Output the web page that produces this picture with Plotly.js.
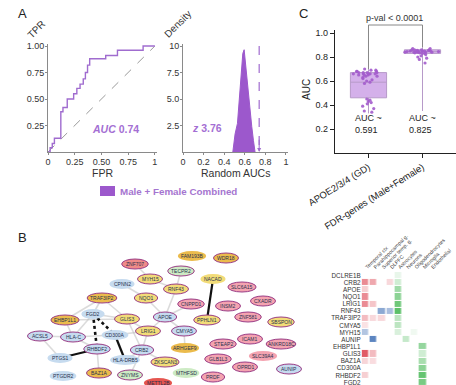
<!DOCTYPE html>
<html><head><meta charset="utf-8">
<script src="https://cdn.plot.ly/plotly-3.0.1.min.js"></script>
<style>html,body{margin:0;padding:0;background:#fff}#chart{width:456px;height:385px}</style>
</head><body><div id="chart"></div>
<script>
const W=456,H=385;
const FONT="Liberation Sans, Arial, Helvetica, sans-serif";
// ---------- Panel A: ROC ----------
const rocFPR=[0,0.02,0.04,0.06,0.10,0.12,0.14,0.18,0.24,0.27,0.30,0.33,0.35,0.37,0.39,0.42,0.54,0.65,0.89,1.00];
const rocTPR=[0,0.04,0.08,0.13,0.13,0.38,0.42,0.50,0.55,0.60,0.64,0.69,0.75,0.82,0.88,0.88,0.91,0.96,1.00,1.00];
const diagX=[0,1], diagY=[0,1];
const rocXTicks=[0,0.25,0.5,0.75,1], rocXText=['0','0.25','0.50','0.75','1'];
const rocYTicks=[0.25,0.5,0.75,1], rocYText=['0.25','0.50','0.75','1.00'];
const aucValue=0.74;
// ---------- Panel A: random AUC density ----------
const densX=[0.484,0.506,0.529,0.548,0.565,0.581,0.594,0.619,0.635,0.652,0.668,0.684,0.700];
const densY=[0,1.7,2.7,4.9,7.4,9.3,9.65,7.1,5.2,3.9,2.4,1.1,0];
const zScore=3.76;
const densXTicks=[0,0.2,0.4,0.6,0.8,1], densXText=['0','0.2','0.4','0.6','0.8','1'];
const densYTicks=[2.5,5,7.5,10], densYText=['2.5','5.0','7.5','10'];
// ---------- Panel C: box plots ----------
const boxCats=['APOE2/3/4 (GD)','FDR-genes (Male+Female)'];
const boxQ1=[0.46,0.83], boxMed=[0.59,0.845], boxQ3=[0.67,0.86], boxLo=[0.33,0.35], boxHi=[0.70,0.88];
const boxMeanText=['0.591','0.825'];
const apoePts=[0.70,0.69,0.69,0.68,0.68,0.68,0.67,0.67,0.67,0.67,0.66,0.66,0.66,0.66,0.66,0.65,0.65,0.65,0.64,0.64,0.63,0.62,0.61,0.60,0.59,0.58,0.45,0.44,0.43,0.42,0.41,0.39,0.37,0.35,0.34];
const fdrPts=[0.87,0.87,0.86,0.86,0.86,0.86,0.855,0.855,0.85,0.85,0.85,0.85,0.85,0.85,0.845,0.845,0.845,0.845,0.84,0.84,0.84,0.84,0.84,0.835,0.835,0.83,0.83,0.82,0.81,0.80,0.79,0.78,0.75];
const cYTicks=[0.2,0.4,0.6,0.8,1.0], cYText=['0.2','0.4','0.6','0.8','1.0'];
// ---------- Panel B: network ----------
const nodeNames=['ZNF707','FAM193B','WDR18','TECPR2','NACAD','MYH15','CPNN2','TRAF3IP2','NQO1','RNF43','SLC6A15','CNPPD1','INSM2','CXADR','FGD2','GLIS3','APOE','PPHLN1','ZNF581','SBSPON','EHBP1L1','ACSL5','HLA-C','CD300A','LRIG1','CMYA5','ICAM1','STEAP2','ANKRD18C','RHBDF2','CRB2','ARHGEF9','GLB1L3','SLC39A4','PTGS1','HLA-DRB5','ZKSCAN3','OPRD1','AUNIP','PTGDR2','BAZ1A','ZNYMS','MTHFSD','PRDF','METTL2B'];
const nodeX=[135,192,226,181,213,150,122,102,146,176,242,191,228,263,93,127,165,207,248,281,65,40,73,115,148,184,250,223,281,97,142,185,218,263,60,125,165,245,289,63,99,130,186,213,158];
const nodeY=[264,256,258,271,279,279,284,298,298,289,287,304,306,301,314,319,317,320,317,322,320,336,337,335,331,331,339,344,344,349,350,348,359,356,358,360,362,367,369,376,373,375,373,377,383];
const nodeType=['R','G','G','N','Y','Y','B','G','Y','Y','P','P','P','P','B','Y','B','Y','P','Y','G','B','B','B','Y','B','P','P','P','B','B','G','P','P','B','B','Y','P','B','B','G','N','N','P','D'];
const nodeRing=[1,0,1,1,0,1,0,1,1,1,1,1,1,1,0,1,1,1,1,1,1,1,1,0,1,1,1,1,1,1,1,0,1,0,0,0,1,1,1,0,1,1,0,1,0];
const greyEdges=[['TRAF3IP2','GLIS3'],['EHBP1L1','GLIS3'],['HLA-C','CD300A'],['ACSL5','HLA-C'],['FGD2','GLIS3'],['CPNN2','NQO1'],['NQO1','APOE'],['RNF43','APOE'],['TECPR2','RNF43'],['MYH15','RNF43'],['APOE','CMYA5'],['LRIG1','APOE'],['CRB2','LRIG1'],['CRB2','ZKSCAN3'],['HLA-C','RHBDF2'],['EHBP1L1','HLA-C'],['TRAF3IP2','FGD2'],['GLIS3','LRIG1'],['ZNF707','MYH15'],['CNPPD1','APOE'],['HLA-DRB5','CRB2'],['BAZ1A','RHBDF2'],['ZNYMS','CRB2'],['CMYA5','ARHGEF9'],['EHBP1L1','TRAF3IP2'],['ACSL5','PTGS1'],['HLA-C','FGD2'],['GLIS3','CRB2'],['CD300A','LRIG1']];
const solidEdges=[['NACAD','PPHLN1'],['PTGS1','RHBDF2'],['CD300A','HLA-DRB5']];
const dashEdges=[['FGD2','RHBDF2'],['FGD2','CD300A']];
// ---------- Panel B: heatmap ----------
const genes=['DCLRE1B','CRB2','APOE','NQO1','LRIG1','RNF43','TRAF3IP2','CMYA5','MYH15','AUNIP','EHBP1L1','GLIS3','BAZ1A','CD300A','RHBDF2','FGD2'];
const regionCols=['Temporal ctx','Parahippocampal g.','Superior temp. g.','DLPFC'];
const cellCols=['Astrocytes','Neurons','Oligodendrocytes','Microglia','Endothelial'];
const n=null;
const regionZ=[[n,n,n,n],[0.6,0.45,n,0.2],[0.25,n,n,n],[0.6,n,n,n],[0.6,0.3,n,n],[n,n,-0.6,-0.45],[0.35,0.2,0.2,n],[0.15,n,n,n],[-0.4,n,n,n],[n,-0.85,n,n],[n,n,n,n],[0.85,0.35,n,n],[0.22,0.18,n,n],[n,n,n,n],[0.25,n,n,n],[n,n,n,n]];
const cellZ=[[0.12,n,n,n,n],[0.25,n,n,n,n],[0.5,n,n,n,n],[0.6,n,n,n,n],[0.75,n,n,n,n],[0.85,n,n,n,n],[0.35,n,n,n,n],[0.35,n,n,n,n],[0.2,n,0.08,n,n],[n,0.3,n,n,n],[n,n,n,0.55,n],[n,n,n,0.25,n],[n,n,n,0.45,n],[n,n,n,0.6,n],[n,n,n,0.8,n],[n,n,n,0.7,n]];

const px=x=>x/W, py=y=>1-y/H;
const PURPLE='#a06ccf', PURPLE_D='#9c58cc';
const fillMap={P:'#f4a3b0',G:'#ebbb4c',Y:'#f2dc78',B:'#c6dbef',N:'#cdebc4',R:'#ef8a88',D:'#e5554f'};
const axA={showgrid:false,zeroline:false,showline:true,linecolor:'#8a8a8a',linewidth:1,ticks:'outside',ticklen:2,tickcolor:'#8a8a8a',ticklabelstandoff:-1,tickfont:{size:9,color:'#333',family:FONT},fixedrange:true};
const axC={showgrid:false,zeroline:false,showline:true,linecolor:'#222',linewidth:1.2,ticks:'outside',ticklen:4,tickcolor:'#222',tickfont:{size:9,color:'#222',family:FONT},fixedrange:true};

const traces=[];
traces.push({x:diagX,y:diagY,xaxis:'x',yaxis:'y',mode:'lines',line:{color:'#9a9a9a',width:1,dash:'dash'},hoverinfo:'skip',showlegend:false});
traces.push({x:rocFPR,y:rocTPR,xaxis:'x',yaxis:'y',mode:'lines',line:{color:PURPLE,width:1.4,shape:'hv'},showlegend:false});
traces.push({x:densX,y:densY,xaxis:'x2',yaxis:'y2',mode:'lines',fill:'tozeroy',fillcolor:PURPLE_D,line:{color:PURPLE_D,width:1},showlegend:false});
traces.push({x:[aucValue,aucValue],y:[10,0.4],xaxis:'x2',yaxis:'y2',mode:'lines',line:{color:PURPLE,width:1.2,dash:'dash'},showlegend:false});
traces.push({type:'box',x:boxCats,q1:boxQ1,median:boxMed,q3:boxQ3,lowerfence:boxLo,upperfence:boxHi,xaxis:'x3',yaxis:'y3',width:0.67,fillcolor:'#d4b0ea',line:{color:'#b79ac9',width:1},boxpoints:false,whiskerwidth:0,showlegend:false});
[apoePts,fdrPts].forEach((pts,i)=>{
  traces.push({type:'box',y:pts,x0:boxCats[i],xaxis:'x3',yaxis:'y3',width:0.67,boxpoints:'all',jitter:1,pointpos:0,fillcolor:'rgba(0,0,0,0)',line:{color:'rgba(0,0,0,0)',width:0},marker:{size:3.2,color:'#a35ccc',opacity:0.9},whiskerwidth:0,showlegend:false});
});
const idx=name=>nodeNames.indexOf(name);
function edgeTrace(list,color,width,dash){
  const ex=[],ey=[];
  list.forEach(([a,b])=>{ex.push(nodeX[idx(a)],nodeX[idx(b)],null);ey.push(nodeY[idx(a)],nodeY[idx(b)],null);});
  return {x:ex,y:ey,xaxis:'x4',yaxis:'y4',mode:'lines',line:{color:color,width:width,dash:dash||'solid'},hoverinfo:'skip',showlegend:false};
}
traces.push(edgeTrace(greyEdges,'rgba(190,190,190,0.55)',1.6));
traces.push(edgeTrace(solidEdges,'#111',2.2));
traces.push(edgeTrace(dashEdges,'#111',2.6,'dot'));
traces.push({type:'heatmap',x:regionCols,y:genes,z:regionZ,xaxis:'x5',yaxis:'y5',zmin:-1,zmax:1,colorscale:[[0,'#3f6fb5'],[0.5,'#ffffff'],[1,'#dc3e4c']],showscale:false,xgap:1.5,ygap:1,hoverongaps:false});
traces.push({type:'heatmap',x:cellCols,y:genes,z:cellZ,xaxis:'x5',yaxis:'y5',zmin:0,zmax:1,colorscale:[[0,'#ffffff'],[1,'#3fb54e']],showscale:false,xgap:1.5,ygap:1,hoverongaps:false});

const shapes=[], ann=[];
nodeNames.forEach((nm,i)=>{
  const w=17+1.6*nm.length, h=10;
  shapes.push({type:'circle',xref:'x4',yref:'y4',x0:nodeX[i]-w/2,x1:nodeX[i]+w/2,y0:nodeY[i]-h/2,y1:nodeY[i]+h/2,fillcolor:fillMap[nodeType[i]],line:{color:nodeRing[i]?'#9a3d86':'rgba(0,0,0,0)',width:nodeRing[i]?1:0}});
  ann.push({xref:'x4',yref:'y4',x:nodeX[i],y:nodeY[i],xanchor:'center',yanchor:'middle',text:nm,showarrow:false,font:{size:5,color:'#27304d',family:FONT}});
});
const y3Bot=153,y3Top=30,y3Max=1.025;
const y3p=v=>py(y3Bot-(y3Bot-y3Top)*v/y3Max);
shapes.push({type:'line',xref:'x3',yref:'paper',x0:0,x1:1,y0:py(25),y1:py(25),line:{color:'#888',width:1}});
shapes.push({type:'line',xref:'x3',yref:'paper',x0:0,x1:0,y0:py(25),y1:y3p(boxHi[0]),line:{color:'#888',width:1}});
shapes.push({type:'line',xref:'x3',yref:'paper',x0:1,x1:1,y0:py(25),y1:y3p(boxHi[1]),line:{color:'#888',width:1}});
shapes.push({type:'rect',xref:'paper',yref:'paper',x0:px(100),x1:px(115),y0:py(196),y1:py(186),fillcolor:PURPLE_D,line:{width:0}});

const A=(t,x,y,o)=>Object.assign({text:t,x:px(x),y:py(y),xref:'paper',yref:'paper',xanchor:'center',yanchor:'middle',showarrow:false,font:{size:9,color:'#222',family:FONT}},o||{});
ann.push(A('A',22,13,{font:{size:13,color:'#222',family:FONT}}));
ann.push(A('TPR',36,29,{textangle:-45,font:{size:10,color:'#333',family:FONT}}));
ann.push(A('FPR',102,173,{font:{size:10.5,color:'#333',family:FONT}}));
ann.push(A('Density',177,24,{textangle:-45,font:{size:10,color:'#333',family:FONT}}));
ann.push(A('Random AUCs',235,173,{font:{size:10.5,color:'#333',family:FONT}}));
ann.push({xref:'x',yref:'y',x:0.63,y:0.22,xanchor:'center',yanchor:'middle',text:'<b><i>AUC</i> '+aucValue.toFixed(2)+'</b>',showarrow:false,font:{size:10.5,color:'#a46fd3',family:FONT}});
ann.push({xref:'x2',yref:'y2',x:0.23,y:2.25,xanchor:'center',yanchor:'middle',text:'<b><i>z</i> '+zScore.toFixed(2)+'</b>',showarrow:false,font:{size:10.5,color:'#a46fd3',family:FONT}});
ann.push({xref:'x2',yref:'y2',x:aucValue,y:0,ax:aucValue,ay:1.3,axref:'x2',ayref:'y2',text:'',showarrow:true,arrowhead:2,arrowsize:0.8,arrowwidth:1,arrowcolor:PURPLE});
ann.push(A('<b>Male + Female Combined</b>',118,191,{xanchor:'left',font:{size:9.8,color:'#a575d0',family:FONT}}));
ann.push(A('C',303,13,{font:{size:13,color:'#222',family:FONT}}));
ann.push(A('p-val < 0.0001',394,18,{font:{size:9,color:'#333',family:FONT}}));
ann.push(A('AUC',307,90,{textangle:-90,font:{size:10,color:'#222',family:FONT}}));
boxCats.forEach((c,i)=>{
  ann.push({xref:'x3',yref:'y3',x:c,y:0.24,xanchor:'center',yanchor:'middle',text:'AUC ~<br>'+boxMeanText[i],showarrow:false,font:{size:9,color:'#222',family:FONT},align:'left'});
});
ann.push(A('B',22,237,{font:{size:13,color:'#222',family:FONT}}));

const allCols=regionCols.concat(cellCols);
const layout={width:W,height:H,margin:{l:0,r:0,t:0,b:0},paper_bgcolor:'#fff',plot_bgcolor:'rgba(0,0,0,0)',showlegend:false,boxmode:'overlay',font:{family:FONT},
 xaxis:Object.assign({},axA,{domain:[px(48),px(157)],range:[0,1.02],anchor:'y',tickvals:rocXTicks,ticktext:rocXText}),
 yaxis:Object.assign({},axA,{domain:[py(152),py(43.9)],range:[0,1.02],anchor:'x',tickvals:rocYTicks,ticktext:rocYText}),
 xaxis2:Object.assign({},axA,{domain:[px(183),px(288)],range:[0,1.02],anchor:'y2',tickvals:densXTicks,ticktext:densXText}),
 yaxis2:Object.assign({},axA,{domain:[py(152),py(43.9)],range:[0,10.2],anchor:'x2',tickvals:densYTicks,ticktext:densYText}),
 xaxis3:Object.assign({},axC,{domain:[px(335),1],range:[-0.62,1.62],anchor:'y3',type:'category',categoryorder:'array',categoryarray:boxCats,tickangle:-32,tickfont:{size:9.5,color:'#222',family:FONT}}),
 yaxis3:Object.assign({},axC,{domain:[py(y3Bot),py(y3Top)],range:[0,y3Max],anchor:'x3',tickvals:cYTicks,ticktext:cYText}),
 xaxis4:{domain:[0,px(345)],range:[0,345],anchor:'y4',visible:false,fixedrange:true},
 yaxis4:{domain:[0,py(225)],range:[385,225],anchor:'x4',visible:false,fixedrange:true},
 xaxis5:{domain:[px(361.6),px(435.4)],range:[-0.5,8.5],anchor:'y5',type:'category',categoryorder:'array',categoryarray:allCols,tickmode:'array',tickvals:allCols,ticktext:allCols,side:'top',tickangle:-45,showgrid:false,zeroline:false,showline:false,ticks:'',tickfont:{size:5.2,color:'#444',family:FONT},fixedrange:true},
 yaxis5:{domain:[0,py(272)],range:[15.36,-0.49],anchor:'x5',type:'category',categoryorder:'array',categoryarray:genes,tickmode:'array',tickvals:genes,ticktext:genes,showgrid:false,zeroline:false,showline:false,ticks:'',tickfont:{size:6.3,color:'#333',family:FONT},fixedrange:true},
 shapes:shapes,annotations:ann};
Plotly.newPlot('chart',traces,layout,{staticPlot:true,displayModeBar:false});
</script></body></html>
